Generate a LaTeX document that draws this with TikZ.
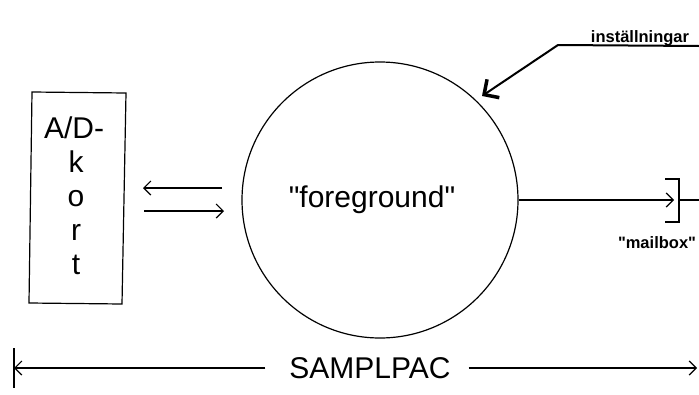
\documentclass[tikz,border=0pt]{standalone}
\usepackage{fontspec}
\setmainfont{Liberation Sans}[Ligatures=TeXOff]
\usetikzlibrary{arrows.meta}
\begin{document}
\begin{tikzpicture}[x=1pt,y=-1pt,
  line width=1.2pt,
  barb/.style={-{Straight Barb[length=7pt,width=14pt]}},
  big/.style={font=\fontsize{30}{30}\selectfont},
  small/.style={font=\fontsize{16.5}{16.5}\selectfont\bfseries}]
\useasboundingbox (0,0) rectangle (699,394);
% A/D card
\draw (32,92) -- (126,93) -- (122,304) -- (29,303) -- cycle;
\node[big, anchor=base] (adt) at (74,138) {A/D-};
\node[big, anchor=base] (k) at (76,172) {k};
\node[big, anchor=base] (o) at (76,206) {o};
\node[big, anchor=base] (r) at (76,240) {r};
\node[big, anchor=base] (t) at (76,274) {t};
% foreground process
\node[draw, circle, minimum size=276pt, inner sep=0pt] (fg) at (380,200) {};
\node[big] (fgt) at (372,200) {"foreground"};
% data exchange arrows
\coordinate (a1) at (222,188);
\coordinate (a2) at (143,188);
\coordinate (b1) at (144,211);
\coordinate (b2) at (224,211);
\draw[barb] (a1) -- (a2);
\draw[barb] (b1) -- (b2);
% mailbox
\coordinate (mb) at (674,200);
\draw[barb] (fg.east) -- (mb);
\draw (665,179) -- (679,179) -- (679,222) -- (665,222);
\coordinate (mbo) at (679,200);
\coordinate (edge) at (699,200);
\draw (mbo) -- (edge);
\node[small] (mbt) at (657,243) {"mailbox"};
% settings input
\node[small] (inst) at (640,38) {inställningar};
\coordinate (s0) at (699,46);
\coordinate (s1) at (558,45);
\coordinate (s2) at (482,96);
\draw[line width=2pt, -{Straight Barb[length=11pt,width=22pt,line width=3.5pt]}] (s0) -- (s1) -- (s2);
% SAMPLPAC extent
\node[big] (sp) at (370,368) {SAMPLPAC};
\coordinate (l0) at (14,368);
\coordinate (r0) at (697,368);
\draw (14,348) -- (14,388);
\draw[barb] (sp.west) ++(-20,0) -- (l0);
\draw[barb] (sp.east) ++(14,0) -- (r0);
\end{tikzpicture}
\end{document}
